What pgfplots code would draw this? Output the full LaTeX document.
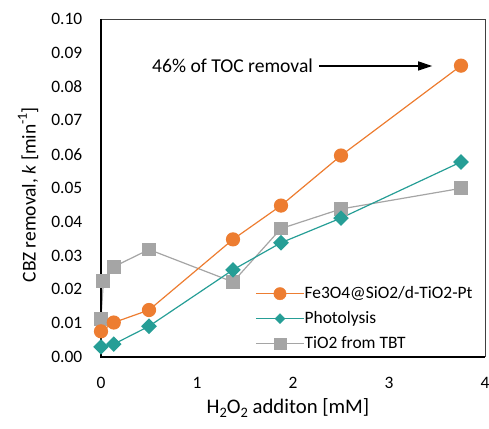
\documentclass[border=0pt]{standalone}
\usepackage{pgfplots}
\pgfplotsset{compat=1.18}
\usetikzlibrary{arrows.meta}
\usepackage{fontspec}
\setmainfont{Carlito}
\definecolor{cor}{HTML}{ED7D31}
\definecolor{cte}{HTML}{269E96}
\definecolor{cgr}{HTML}{A5A5A5}
\newcommand{\sub}[1]{\raisebox{-0.22em}{\fontsize{14.5}{15}\selectfont #1}}
\newcommand{\sups}[1]{\raisebox{0.45em}{\fontsize{14}{15}\selectfont #1}}
\begin{document}
\fontsize{17.5}{21}\selectfont
\begin{tikzpicture}
\path[use as bounding box] (-101bp,-72bp) rectangle (388bp,357bp);
\begin{axis}[
  scale only axis, width=384bp, height=338bp,
  xmin=0, xmax=4, ymin=0, ymax=0.1,
  clip=false,
  axis line style={draw=none},
  major tick length=0pt,
  xtick={0,1,2,3,4},
  ytick={0,0.01,...,0.1001},
  /pgf/number format/assume math mode=true,
  ticklabel style={font=\fontsize{17.5}{21}\selectfont},
  yticklabel style={/pgf/number format/fixed, /pgf/number format/precision=2, /pgf/number format/fixed zerofill, anchor=east, inner sep=0pt, xshift=-18.5bp},
  xticklabel style={anchor=center, inner sep=0pt, yshift=-26bp},
  scaled y ticks=false,
  xlabel={H\sub{2}O\sub{2} additon [mM]},
  ylabel={CBZ removal, \textit{k} [min\sups{-1}]},
  xlabel style={at={(axis description cs:0.487,-0.151)}, anchor=center, font=\fontsize{20.8}{24}\selectfont},
  ylabel style={at={(axis description cs:-0.190,0.48)}, anchor=center, font=\fontsize{19.6}{24}\selectfont},
  legend cell align=left,
  legend style={draw=none, fill=none, at={(axis cs:1.575,0.0216)}, anchor=north west,
    font=\fontsize{17.5}{21}\selectfont,
    nodes={inner sep=0pt, text height=12bp, text depth=3bp},
    row sep=10bp,
    /tikz/every even column/.append style={column sep=5bp}},
]
\addplot[cgr, line width=1.2bp, mark=square*, mark size=6.3bp, mark options={draw=cgr, fill=cgr}, forget plot] coordinates {
(0,0.0113) (0.025,0.0225) (0.133,0.0267) (0.5,0.0318) (1.375,0.0222) (1.875,0.0380) (2.5,0.0438) (3.75,0.0499)};
\addplot[cor, line width=1.2bp, mark=*, mark size=6.5bp, mark options={draw=cor, fill=cor}, forget plot] coordinates {
(0,0.0076) (0.133,0.0102) (0.5,0.0139) (1.375,0.0348) (1.875,0.0448) (2.5,0.0596) (3.75,0.0862)};
\addplot[cte, line width=1.2bp, mark=square*, mark size=4.9bp, mark options={draw=cte, fill=cte, rotate=45}, forget plot] coordinates {
(0,0.0030) (0.133,0.0038) (0.5,0.0091) (1.375,0.0258) (1.875,0.0338) (2.5,0.0411) (3.75,0.0577)};
\addlegendimage{legend image code/.code={\draw[cor, line width=1.2bp] (0bp,0bp) -- (48bp,0bp); \fill[cor] (24bp,0bp) circle (6.2bp);}}
\addlegendentry{Fe3O4@SiO2/d-TiO2-Pt}
\addlegendimage{legend image code/.code={\draw[cte, line width=1.2bp] (0bp,0bp) -- (48bp,0bp); \fill[cte] (24bp,-5bp) -- (29bp,0bp) -- (24bp,5bp) -- (19bp,0bp) -- cycle;}}
\addlegendentry{Photolysis}
\addlegendimage{legend image code/.code={\draw[cgr, line width=1.2bp] (0bp,0bp) -- (48bp,0bp); \fill[cgr] (18.2bp,-5.8bp) rectangle (29.8bp,5.8bp);}}
\addlegendentry{TiO2 from TBT}
\draw[black!75, line width=0.8bp] (rel axis cs:0,1) -- (rel axis cs:1,1) -- (rel axis cs:1,0);
\draw[black, line width=1.6bp] (rel axis cs:0,1) -- (rel axis cs:0,0) -- (rel axis cs:1,0);
\draw[black, line width=1.3bp, -{Triangle[length=14bp, width=9bp]}] (axis cs:2.27,0.0861) -- (axis cs:3.45,0.0861);
\node[anchor=east, inner sep=0pt, font=\fontsize{19.7}{23}\selectfont] at (axis cs:2.21,0.0861) {46\% of TOC removal};
\end{axis}
\end{tikzpicture}
\end{document}
